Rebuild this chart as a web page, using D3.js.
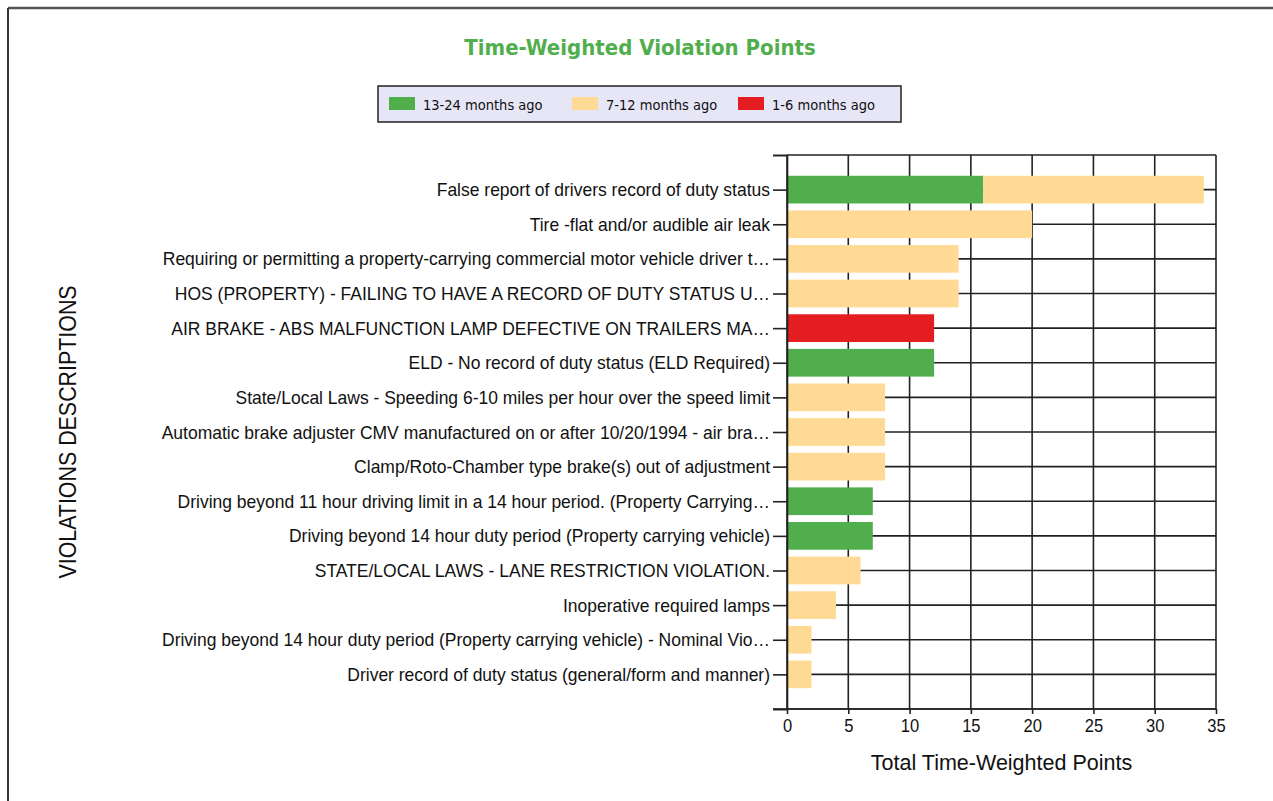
<!DOCTYPE html>
<html>
<head>
<meta charset="utf-8">
<script src="https://cdn.jsdelivr.net/npm/d3@7"></script>
<style>
  html, body { margin: 0; padding: 0; background: #fff; }
  svg { display: block; }
</style>
</head>
<body>
<svg id="chart"></svg>
<script>
const width = 1273;
const height = 801;

// data, top row first
const labels = [
  "False report of drivers record of duty status",
  "Tire -flat and/or audible air leak",
  "Requiring or permitting a property-carrying commercial motor vehicle driver t…",
  "HOS (PROPERTY) - FAILING TO HAVE A RECORD OF DUTY STATUS U…",
  "AIR BRAKE - ABS MALFUNCTION LAMP DEFECTIVE ON TRAILERS MA…",
  "ELD - No record of duty status (ELD Required)",
  "State/Local Laws - Speeding 6-10 miles per hour over the speed limit",
  "Automatic brake adjuster CMV manufactured on or after 10/20/1994 - air bra…",
  "Clamp/Roto-Chamber type brake(s) out of adjustment",
  "Driving beyond 11 hour driving limit in a 14 hour period. (Property Carrying…",
  "Driving beyond 14 hour duty period (Property carrying vehicle)",
  "STATE/LOCAL LAWS - LANE RESTRICTION VIOLATION.",
  "Inoperative required lamps",
  "Driving beyond 14 hour duty period (Property carrying vehicle) - Nominal Vio…",
  "Driver  record of duty status (general/form and manner)"
];
const months13to24 = [16, 0, 0, 0, 0, 12, 0, 0, 0, 7, 7, 0, 0, 0, 0];
const months7to12 = [18, 20, 14, 14, 0, 0, 8, 8, 8, 0, 0, 6, 4, 2, 2];
const months1to6 = [0, 0, 0, 0, 12, 0, 0, 0, 0, 0, 0, 0, 0, 0, 0];

const seriesNames = ["13-24 months ago", "7-12 months ago", "1-6 months ago"];
const seriesColors = ["#50ae4c", "#ffda94", "#e41e20"];
const xTicks = [0, 5, 10, 15, 20, 25, 30, 35];

const rows = labels.map((label, i) => ({
  label: label,
  pos: i + 1,
  s0: months13to24[i],
  s1: months7to12[i],
  s2: months1to6[i]
}));

const sans = "'Liberation Sans', Arial, sans-serif";
const tahomaLike = "'DejaVu Sans Condensed', 'DejaVu Sans', sans-serif";

// squeeze a text sideways, the reference font is narrow
function squeeze(sel, k) {
  sel.each(function () {
    const len = this.getComputedTextLength();
    if (len > 0) {
      d3.select(this).attr("textLength", len * k).attr("lengthAdjust", "spacingAndGlyphs");
    }
  });
}

const svg = d3.select("#chart").attr("width", width).attr("height", height);

// page frame (cut off at right and bottom)
svg.append("line").attr("x1", 8).attr("x2", width).attr("y1", 8).attr("y2", 8)
  .attr("stroke", "#555").attr("stroke-width", 2.5);
svg.append("line").attr("x1", 8).attr("x2", 8).attr("y1", 8).attr("y2", height)
  .attr("stroke", "#333").attr("stroke-width", 2);

const plot = { left: 787, right: 1216, top: 155, bottom: 709 };

const x = d3.scaleLinear().domain([0, 35]).range([plot.left, plot.right]);
const y = d3.scaleLinear().domain([0, labels.length + 1]).range([plot.top, plot.bottom]);
const barH = (y(1) - y(0)) * 0.8;

// grid
const grid = svg.append("g").attr("stroke", "#222").attr("stroke-width", 1.6);
grid.selectAll("line.v").data(xTicks).join("line")
  .attr("class", "v")
  .attr("x1", d => x(d)).attr("x2", d => x(d))
  .attr("y1", plot.top).attr("y2", plot.bottom);
grid.selectAll("line.h").data(d3.range(0, labels.length + 2)).join("line")
  .attr("class", "h")
  .attr("x1", plot.left).attr("x2", plot.right)
  .attr("y1", d => y(d)).attr("y2", d => y(d));

// stacked bars
const stack = d3.stack().keys(["s0", "s1", "s2"]);
const layers = stack(rows);

svg.append("g").selectAll("g").data(layers).join("g")
  .attr("fill", (d, i) => seriesColors[i])
  .selectAll("rect").data(d => d.filter(p => p[1] > p[0])).join("rect")
  .attr("x", d => x(d[0]))
  .attr("width", d => x(d[1]) - x(d[0]))
  .attr("y", d => y(d.data.pos) - barH / 2)
  .attr("height", barH);

// y axis
const yAxis = d3.axisLeft(y)
  .tickValues(d3.range(0, labels.length + 2))
  .tickSize(14)
  .tickPadding(3)
  .tickFormat(d => (d >= 1 && d <= labels.length ? labels[d - 1] : ""));

svg.append("g")
  .attr("transform", `translate(${plot.left},0)`)
  .call(yAxis)
  .call(g => g.select(".domain").attr("stroke", "#222").attr("stroke-width", 1.6))
  .call(g => g.selectAll(".tick line").attr("stroke", "#222").attr("stroke-width", 1.6))
  .call(g => g.selectAll(".tick text")
    .attr("font-family", sans)
    .attr("font-size", 18.5)
    .attr("fill", "#111")
    .attr("dy", "0.33em")
    .call(squeeze, 0.945));

// x axis
const xAxis = d3.axisBottom(x)
  .tickValues(xTicks)
  .tickSize(5)
  .tickPadding(5);

svg.append("g")
  .attr("transform", `translate(0,${plot.bottom})`)
  .call(xAxis)
  .call(g => g.select(".domain").remove())
  .call(g => g.selectAll(".tick line").attr("stroke", "#222").attr("stroke-width", 1.6))
  .call(g => g.selectAll(".tick text")
    .attr("font-family", sans)
    .attr("font-size", 18)
    .attr("fill", "#111")
    .call(squeeze, 0.92));
svg.append("line")
  .attr("x1", plot.left - 14).attr("x2", plot.right)
  .attr("y1", plot.bottom).attr("y2", plot.bottom)
  .attr("stroke", "#222").attr("stroke-width", 1.6);

// axis titles
svg.append("text")
  .attr("x", (plot.left + plot.right) / 2)
  .attr("y", 770)
  .attr("text-anchor", "middle")
  .attr("font-family", sans)
  .attr("font-size", 21.5)
  .attr("fill", "#111")
  .text("Total Time-Weighted Points");

svg.append("text")
  .attr("transform", "translate(76,432) rotate(-90)")
  .attr("text-anchor", "middle")
  .attr("font-family", sans)
  .attr("font-size", 23)
  .attr("fill", "#111")
  .text("VIOLATIONS DESCRIPTIONS")
  .call(squeeze, 0.93);

// title
svg.append("text")
  .attr("x", 640)
  .attr("y", 55)
  .attr("text-anchor", "middle")
  .attr("font-family", tahomaLike)
  .attr("font-weight", "bold")
  .attr("font-size", 22)
  .attr("fill", "#50ae4c")
  .text("Time-Weighted Violation Points");

// legend
const legend = svg.append("g").attr("transform", "translate(378,86)");
legend.append("rect")
  .attr("width", 523).attr("height", 36)
  .attr("fill", "#e6e6f6").attr("stroke", "#222").attr("stroke-width", 1.5);

const legendX = [11, 194, 360];
const item = legend.selectAll("g.item").data(seriesNames).join("g")
  .attr("class", "item")
  .attr("transform", (d, i) => `translate(${legendX[i]},0)`);
item.append("rect")
  .attr("y", 11).attr("width", 26).attr("height", 13)
  .attr("fill", (d, i) => seriesColors[i]);
item.append("text")
  .attr("x", 34).attr("y", 23.5)
  .attr("font-family", tahomaLike)
  .attr("font-size", 14.5)
  .attr("fill", "#111")
  .text(d => d);
</script>
</body>
</html>
